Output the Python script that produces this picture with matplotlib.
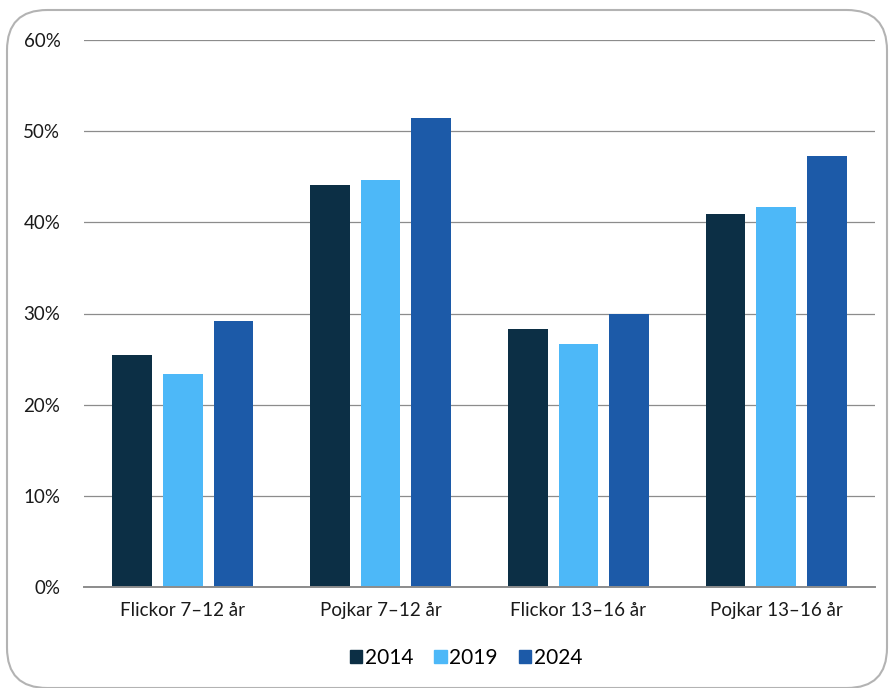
import matplotlib
matplotlib.use('Agg')
import matplotlib.pyplot as plt
import numpy as np
from matplotlib.patches import FancyBboxPatch, Patch

plt.rcParams['font.family'] = ['Lato', 'DejaVu Sans']

# data
groups = ['Flickor 7–12 år', 'Pojkar 7–12 år', 'Flickor 13–16 år', 'Pojkar 13–16 år']
years = ['2014', '2019', '2024']
v2014 = [25.4, 44.1, 28.3, 40.9]
v2019 = [23.4, 44.6, 26.6, 41.7]
v2024 = [29.2, 51.4, 29.9, 47.3]
colors = ['#0c2f45', '#4db8f8', '#1c5aa8']

fig = plt.figure(figsize=(8.94, 6.88), dpi=100)
ax = fig.add_axes([84/894, 1 - 587/688, (875 - 84)/894, (587 - 40)/688])

# rounded frame around the whole chart
frame = FancyBboxPatch((7/894, 0.0), (887 - 7)/894, (678)/688,
                       boxstyle='round,pad=0,rounding_size=0.045',
                       transform=fig.transFigure, facecolor='none',
                       edgecolor='#b3b3b3', linewidth=1.5, clip_on=False,
                       mutation_aspect=894/688)
fig.patches.append(frame)

x = np.arange(len(groups))
w = 0.2
step = 0.256
for i, vals in enumerate([v2014, v2019, v2024]):
    ax.bar(x + (i - 1)*step, vals, width=w, color=colors[i], zorder=3)

ax.set_xlim(-0.5, len(groups) - 0.5)
ax.set_ylim(0, 60)
ax.set_yticks(range(0, 61, 10))
ax.set_yticklabels([f'{t}%' for t in range(0, 61, 10)])
ax.set_xticks(x)
ax.set_xticklabels(groups)
ax.grid(axis='y', color='#8c8c8c', linewidth=0.9, zorder=0)
for s in ['top', 'right', 'left']:
    ax.spines[s].set_visible(False)
ax.spines['bottom'].set_color('#8c8c8c')
ax.spines['bottom'].set_linewidth(1.4)
ax.spines['bottom'].set_zorder(4)
ax.tick_params(axis='both', length=0, labelsize=13.5, colors='#1a1a1a')
ax.tick_params(axis='y', pad=17)
ax.tick_params(axis='x', pad=11)

handles = [Patch(color=c) for c in colors]
fig.legend(handles, years, loc='center', bbox_to_anchor=(466/894, 1 - 658/688),
           ncol=3, frameon=False, fontsize=15, handlelength=0.6, handleheight=0.6,
           handletextpad=0.12, columnspacing=1.0)

fig.savefig('out.png', dpi=100)
